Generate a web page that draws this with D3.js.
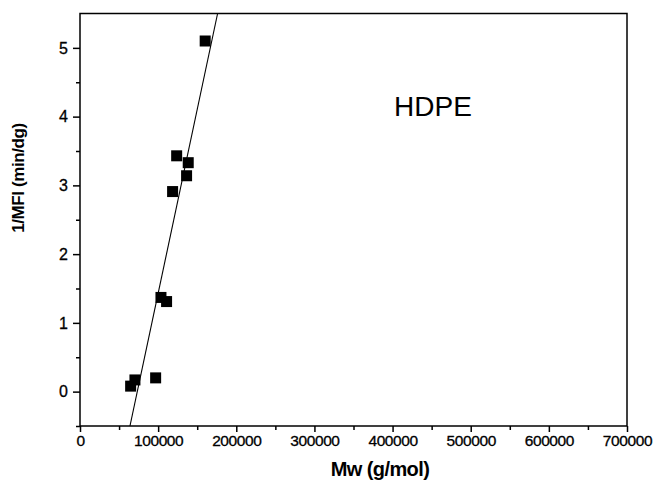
<!DOCTYPE html>
<html><head><meta charset="utf-8">
<script src="https://cdn.jsdelivr.net/npm/d3@7"></script>
<style>
html,body{margin:0;padding:0;background:#fff;}
svg{display:block;}
text{font-family:Arial,"Liberation Sans",Helvetica,sans-serif;fill:#000;}
</style></head>
<body><svg id="c" width="653" height="485"></svg>
<script>
// Data
const mw = [64800, 70300, 96800, 103600, 110800, 118500, 123700, 136400, 138500, 160200];
const invMFI = [0.08, 0.17, 0.20, 1.37, 1.31, 2.91, 3.43, 3.14, 3.33, 5.10];
const xTicks = [0, 100000, 200000, 300000, 400000, 500000, 600000, 700000];
const yTicks = [0, 1, 2, 3, 4, 5];
const fitSlope = 5.35e-5;
const fitIntercept = -3.92;
const xLabel = "Mw (g/mol)";
const yLabel = "1/MFI (min/dg)";
const seriesName = "HDPE";

const svg = d3.select("#c");
const L = 80, R = 627, T = 13.5, B = 426;
const x = d3.scaleLinear().domain([0, 700000]).range([L, R]);
const y = d3.scaleLinear().domain([-0.5, 5.5]).range([B, T]);

// frame
svg.append("rect").attr("x", L).attr("y", T).attr("width", R - L).attr("height", B - T)
  .attr("fill", "none").attr("stroke", "#000").attr("stroke-width", 1.5);

// x axis
const xMinor = d3.range(50000, 700000, 100000);
svg.append("g").attr("transform", `translate(0,${B})`)
  .call(d3.axisBottom(x).tickValues(xMinor).tickSize(4).tickFormat(""))
  .call(g => g.select(".domain").remove())
  .call(g => g.selectAll("line").attr("stroke-width", 1.5));
const gx = svg.append("g").attr("transform", `translate(0,${B})`)
  .call(d3.axisBottom(x).tickValues(xTicks).tickSize(6).tickPadding(3).tickFormat(d3.format("d")));
gx.select(".domain").remove();
gx.selectAll("line").attr("stroke-width", 1.5);
gx.selectAll("text").attr("font-size", 15.5).attr("letter-spacing", -0.4)
  .attr("stroke", "#000").attr("stroke-width", 0.3)
  .attr("font-family", "Arial, 'Liberation Sans', sans-serif");

// y axis
const yMinor = d3.range(-0.5, 5.5, 1);
svg.append("g").attr("transform", `translate(${L},0)`)
  .call(d3.axisLeft(y).tickValues(yMinor).tickSize(4).tickFormat(""))
  .call(g => g.select(".domain").remove())
  .call(g => g.selectAll("line").attr("stroke-width", 1.5));
const gy = svg.append("g").attr("transform", `translate(${L},0)`)
  .call(d3.axisLeft(y).tickValues(yTicks).tickSize(7).tickPadding(5).tickFormat(d3.format("d")));
gy.select(".domain").remove();
gy.selectAll("line").attr("stroke-width", 1.5);
gy.selectAll("text").attr("font-size", 16).attr("stroke", "#000").attr("stroke-width", 0.3)
  .attr("font-family", "Arial, 'Liberation Sans', sans-serif");

// fit line clipped to plot
svg.append("clipPath").attr("id", "clip").append("rect")
  .attr("x", L).attr("y", T).attr("width", R - L).attr("height", B - T);
const x0 = (-0.5 - fitIntercept) / fitSlope, x1 = (5.5 - fitIntercept) / fitSlope;
const fitPts = [x0, x1].map(v => [v, fitIntercept + fitSlope * v]);
svg.append("path").attr("clip-path", "url(#clip)")
  .attr("d", d3.line().x(d => x(d[0])).y(d => y(d[1]))(fitPts))
  .attr("stroke", "#000").attr("stroke-width", 1.1).attr("fill", "none");

// points
const s = 11;
svg.append("g").selectAll("rect").data(mw.map((m, i) => [m, invMFI[i]])).join("rect")
  .attr("x", d => x(d[0]) - s / 2).attr("y", d => y(d[1]) - s / 2)
  .attr("width", s).attr("height", s).attr("fill", "#000");

// labels
svg.append("text").attr("x", 433).attr("y", 116).attr("text-anchor", "middle")
  .attr("font-size", 28).text(seriesName);
svg.append("text").attr("x", 380).attr("y", 476).attr("text-anchor", "middle")
  .attr("font-size", 20).attr("font-weight", "bold").attr("letter-spacing", -0.6).text(xLabel);
svg.append("text").attr("transform", "translate(24,178) rotate(-90)").attr("text-anchor", "middle")
  .attr("font-size", 17).attr("font-weight", "bold").attr("letter-spacing", -0.4).text(yLabel);
</script></body></html>
